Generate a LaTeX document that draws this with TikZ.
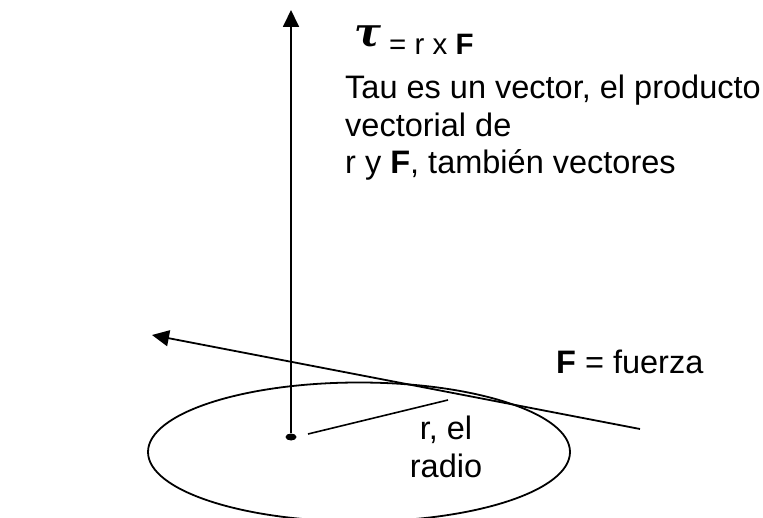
\documentclass[tikz,border=0pt]{standalone}
\usepackage{fontspec}
\setmainfont{Liberation Sans}
\newfontfamily\taufont{DejaVu Serif}
\usetikzlibrary{arrows.meta,shapes.geometric}
\begin{document}
\begin{tikzpicture}[x=1pt,y=-1pt,
  vec/.style={line width=1.8pt, -{Triangle[length=17pt,width=16pt]}},
  txt/.style={font=\fontsize{32.5}{38}\selectfont, inner sep=0pt, anchor=base west}]
\useasboundingbox (0,0) rectangle (763,518);
% disc
\node (disc) [draw, line width=1.8pt, ellipse, minimum width=422pt, minimum height=139pt, inner sep=0pt] at (359,452) {};
% centre dot
\node (o) [fill=black, ellipse, minimum width=11pt, minimum height=7pt, inner sep=0pt] at (291,437) {};
\coordinate (tautip) at (291,10);
\draw[vec] (o) -- (tautip);
% force
\coordinate (ftail) at (640,429);
\coordinate (fhead) at (152,335);
\draw[vec] (ftail) -- (fhead);
% radius
\coordinate (r0) at (308,434);
\coordinate (r1) at (448,400);
\draw[line width=1.6pt] (r0) -- (r1);
% texts
\node (tau) [inner sep=0pt, anchor=base west] at (354,47) {\taufont\fontsize{40}{40}\selectfont\bfseries\itshape τ};
\node (eq) [inner sep=0pt, anchor=base west, font=\fontsize{29.5}{34}\selectfont] at (389,55) {= r x \textbf{F}};
\node (l1) [txt] at (345,99) {Tau es un vector, el producto};
\node (l2) [txt] at (345,137) {vectorial de};
\node (l3) [txt] at (345,174) {r y \textbf{F}, también vectores};
\node (fz) [txt] at (556,374) {\textbf{F} = fuerza};
\node (rad) [inner sep=0pt, align=center, font=\fontsize{32.5}{38}\selectfont] at (446,447) {r, el\\radio};
\end{tikzpicture}
\end{document}
